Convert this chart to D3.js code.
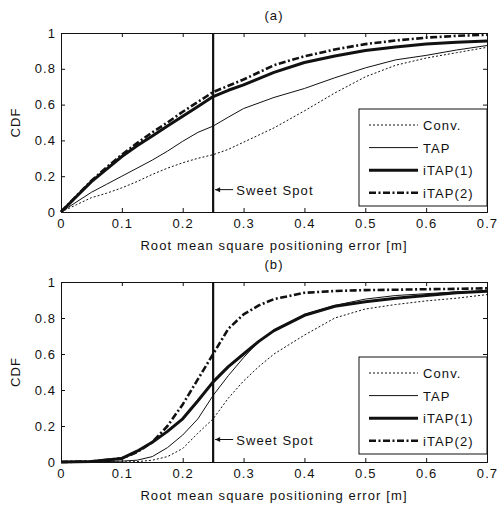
<!DOCTYPE html>
<html>
<head>
<meta charset="utf-8">
<script src="https://cdn.jsdelivr.net/npm/d3@7"></script>
<style>
  body { margin: 0; background: #fff; }
  svg { display: block; font-family: "Liberation Sans", Arial, sans-serif; }
  svg text { font-size: 13px; letter-spacing: 1.1px; fill: #111; }
</style>
</head>
<body>
<svg width="497" height="506"></svg>
<script>
const seriesNames = ['Conv.', 'TAP', 'iTAP(1)', 'iTAP(2)'];
const xTicks = [0, 0.1, 0.2, 0.3, 0.4, 0.5, 0.6, 0.7];
const yTicks = [0, 0.2, 0.4, 0.6, 0.8, 1];
const sweetSpot = 0.25;

// panel (a)
const xA = [0, 0.025, 0.05, 0.075, 0.1, 0.125, 0.15, 0.175, 0.2, 0.225, 0.25, 0.275, 0.3,
            0.35, 0.4, 0.45, 0.5, 0.55, 0.6, 0.65, 0.7];
const convA  = [0, 0.04, 0.08, 0.105, 0.135, 0.17, 0.21, 0.245, 0.275, 0.3, 0.32, 0.35, 0.39,
                0.47, 0.565, 0.665, 0.755, 0.82, 0.86, 0.89, 0.92];
const tapA   = [0, 0.055, 0.11, 0.155, 0.2, 0.245, 0.29, 0.34, 0.395, 0.445, 0.48, 0.53, 0.578,
                0.64, 0.69, 0.75, 0.805, 0.85, 0.875, 0.905, 0.93];
const itap1A = [0, 0.085, 0.17, 0.24, 0.31, 0.37, 0.425, 0.48, 0.535, 0.59, 0.645, 0.68, 0.71,
                0.78, 0.835, 0.872, 0.902, 0.922, 0.938, 0.948, 0.955];
const itap2A = [0, 0.088, 0.175, 0.25, 0.32, 0.385, 0.445, 0.5, 0.56, 0.615, 0.67, 0.705, 0.74,
                0.82, 0.87, 0.908, 0.938, 0.958, 0.974, 0.984, 0.99];

// panel (b)
const xB = [0, 0.05, 0.1, 0.125, 0.15, 0.175, 0.2, 0.225, 0.25, 0.275, 0.3, 0.325, 0.35,
            0.4, 0.45, 0.5, 0.55, 0.6, 0.65, 0.7];
const convB  = [0, 0, 0, 0.002, 0.01, 0.03, 0.075, 0.16, 0.24, 0.355, 0.45, 0.53, 0.6,
                0.705, 0.8, 0.85, 0.875, 0.895, 0.91, 0.93];
const tapB   = [0, 0, 0.005, 0.01, 0.03, 0.08, 0.15, 0.24, 0.37, 0.48, 0.58, 0.67, 0.735,
                0.82, 0.87, 0.905, 0.925, 0.935, 0.945, 0.95];
const itap1B = [0, 0.003, 0.02, 0.06, 0.11, 0.17, 0.24, 0.34, 0.445, 0.53, 0.6, 0.67, 0.73,
                0.815, 0.865, 0.89, 0.91, 0.925, 0.94, 0.948];
const itap2B = [0, 0.003, 0.02, 0.055, 0.11, 0.2, 0.32, 0.46, 0.6, 0.74, 0.82, 0.87, 0.905,
                0.94, 0.95, 0.955, 0.957, 0.96, 0.962, 0.965];

const styles = [
  {width: 1, dash: '2,2'},
  {width: 1, dash: null},
  {width: 3, dash: null},
  {width: 2.6, dash: '7,2.5,2,2.5'}
];

const svg = d3.select('svg');

function drawPanel(title, xs, series, top, bottom, legendTop) {
  const x = d3.scaleLinear().domain([0, 0.7]).range([61, 487]);
  const y = d3.scaleLinear().domain([0, 1]).range([bottom, top]);
  const g = svg.append('g');

  g.append('text')
      .attr('x', 274).attr('y', top - 13)
      .attr('text-anchor', 'middle')
      .text(title);

  const line = d3.line()
      .x((d, i) => x(xs[i]))
      .y(d => y(d));

  g.selectAll('path.curve')
      .data(series)
      .enter()
      .append('path')
      .attr('class', 'curve')
      .attr('fill', 'none')
      .attr('stroke', '#111')
      .attr('stroke-width', (d, i) => styles[i].width)
      .attr('stroke-dasharray', (d, i) => styles[i].dash)
      .attr('stroke-linejoin', 'round')
      .attr('d', d => line(d));

  // sweet spot
  g.append('line')
      .attr('x1', x(sweetSpot)).attr('x2', x(sweetSpot))
      .attr('y1', y(1)).attr('y2', y(0))
      .attr('stroke', '#111').attr('stroke-width', 2.2);
  const ay = y(0.125);
  g.append('line')
      .attr('x1', x(sweetSpot) + 2).attr('x2', x(sweetSpot) + 20)
      .attr('y1', ay).attr('y2', ay)
      .attr('stroke', '#111').attr('stroke-width', 1);
  g.append('path')
      .attr('d', `M${x(sweetSpot) + 2},${ay} l5,-2.5 l0,5 z`)
      .attr('fill', '#111');
  g.append('text')
      .attr('x', x(sweetSpot) + 23).attr('y', ay + 5)
      .text('Sweet Spot');

  // axes, ticks inward on all sides
  g.append('g')
      .attr('transform', `translate(0,${bottom})`)
      .call(d3.axisBottom(x).tickValues(xTicks).tickSize(-4).tickPadding(7)
          .tickFormat(d3.format('~g')));
  g.append('g')
      .attr('transform', `translate(0,${top})`)
      .call(d3.axisTop(x).tickValues(xTicks).tickSize(-4).tickFormat(''));
  g.append('g')
      .attr('transform', 'translate(61,0)')
      .call(d3.axisLeft(y).tickValues(yTicks).tickSize(-4).tickPadding(5)
          .tickFormat(d3.format('~g')));
  g.append('g')
      .attr('transform', 'translate(487,0)')
      .call(d3.axisRight(y).tickValues(yTicks).tickSize(-4).tickFormat(''));
  g.selectAll('.domain').attr('stroke', '#111');
  g.selectAll('.tick line').attr('stroke', '#111');
  g.selectAll('.tick text').attr('fill', '#111');

  g.append('text')
      .attr('x', 274).attr('y', bottom + 38)
      .attr('text-anchor', 'middle')
      .text('Root mean square positioning error [m]');
  g.append('text')
      .attr('transform', `translate(20,${(top + bottom) / 2}) rotate(-90)`)
      .attr('text-anchor', 'middle')
      .text('CDF');

  // legend
  const lg = g.append('g').attr('transform', `translate(359,${legendTop})`);
  lg.append('rect')
      .attr('width', 128).attr('height', 97)
      .attr('fill', '#fff').attr('stroke', '#111').attr('stroke-width', 1);
  const item = lg.selectAll('g.item')
      .data(seriesNames)
      .enter()
      .append('g')
      .attr('class', 'item')
      .attr('transform', (d, i) => `translate(0,${16 + i * 22.6})`);
  item.append('line')
      .attr('x1', 10).attr('x2', 59)
      .attr('stroke', '#111')
      .attr('stroke-width', (d, i) => styles[i].width)
      .attr('stroke-dasharray', (d, i) => styles[i].dash);
  item.append('text')
      .attr('x', 64).attr('y', 5)
      .text(d => d);
}

drawPanel('(a)', xA, [convA, tapA, itap1A, itap2A], 33, 212, 109);
drawPanel('(b)', xB, [convB, tapB, itap1B, itap2B], 282, 462, 357);
</script>
</body>
</html>
